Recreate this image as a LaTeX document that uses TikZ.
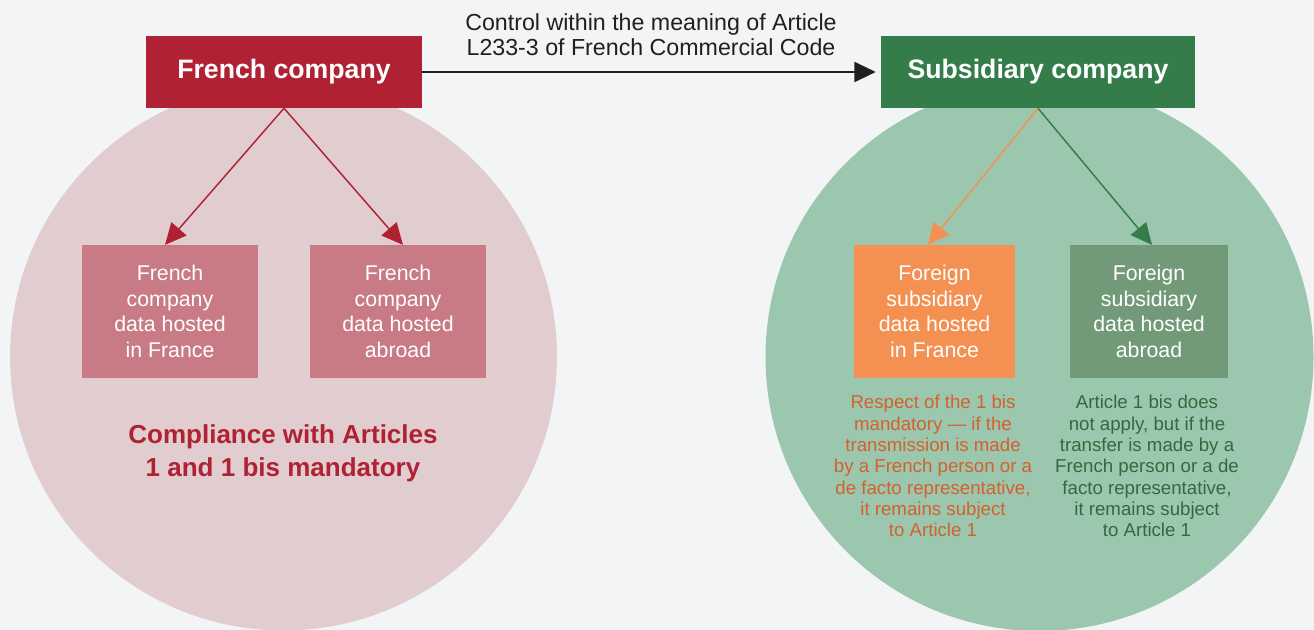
\documentclass[tikz,border=0pt]{standalone}
\usepackage{fontspec}
\setmainfont{Liberation Sans}
\usepackage{xcolor}
\usepackage{tikz}
\usetikzlibrary{positioning,shapes,arrows.meta}

\definecolor{bgcol}{HTML}{F3F4F6}
\definecolor{frred}{HTML}{B02233}
\definecolor{frpink}{HTML}{E1CDCF}
\definecolor{frbox}{HTML}{C87A85}
\definecolor{subgreen}{HTML}{347C49}
\definecolor{submint}{HTML}{9CC7AF}
\definecolor{suborange}{HTML}{F49152}
\definecolor{subsage}{HTML}{739A78}
\definecolor{ortext}{HTML}{D4602C}
\definecolor{grtext}{HTML}{2F6B3F}
\definecolor{inkblack}{HTML}{231F20}

\tikzset{
  headbox/.style={fill=#1, text=white, font=\bfseries\fontsize{20}{24}\selectfont,
    minimum height=54pt, inner sep=0pt},
  databox/.style={fill=#1, text=white, align=center, font=\fontsize{16}{19.3}\selectfont,
    minimum width=132pt, minimum height=99.5pt, inner sep=0pt},
  note/.style={text=#1, align=center, font=\fontsize{14}{16}\selectfont, inner sep=0pt},
  link/.style={draw=#1, line width=1.1pt, -{Triangle[length=16pt,width=15pt,fill=#1]}}
}

\begin{document}
\begin{tikzpicture}[x=0.75pt, y=-0.75pt]
    \useasboundingbox (0,0) rectangle (1314,630);
    \fill[bgcol] (0,0) rectangle (1314,630);
    % circles
    \fill[frpink] (283.5,357) circle[radius=205.1pt];
    \fill[submint] (1039.5,357) circle[radius=205.5pt];
    % top boxes
    \node[headbox=frred, minimum width=207pt] (fc) at (284,72) {French company};
    \node[headbox=subgreen, minimum width=235.5pt] (sc) at (1038,72) {Subsidiary company};
    \node[align=center, text=inkblack, font=\fontsize{17.4}{19}\selectfont, inner sep=0pt]
        (ctl) at (651,35) {Control within the meaning of Article\\L233-3 of French Commercial Code};
    \draw[link=inkblack, line width=1.5pt, -{Triangle[length=16pt,width=15pt]}, shorten >=3.75pt] (fc) -- (sc);
    % french side
    \node[databox=frbox] (fin) at (170,311.5) {French\\company\\data hosted\\in France};
    \node[databox=frbox] (fab) at (398,311.5) {French\\company\\data hosted\\abroad};
    \coordinate (fin-top) at ([xshift=-3.75pt]fin.north);
    \coordinate (fab-top) at ([xshift=3.75pt]fab.north);
    \draw[link=frred] (fc.south) -- (fin-top);
    \draw[link=frred] (fc.south) -- (fab-top);
    \node[text=frred, align=center, font=\bfseries\fontsize{19.5}{24.75}\selectfont, inner sep=0pt]
        (comp) at (283,453) {Compliance with Articles\\1 and 1 bis mandatory};
    % subsidiary side
    \node[databox=suborange, minimum width=120.75pt] (sin) at (934.5,311.5) {Foreign\\subsidiary\\data hosted\\in France};
    \node[databox=subsage, minimum width=118.5pt] (sab) at (1149,311.5) {Foreign\\subsidiary\\data hosted\\abroad};
    \coordinate (sin-top) at ([xshift=-4.9pt]sin.north);
    \coordinate (sab-top) at ([xshift=2.25pt]sab.north);
    \draw[link=suborange] (sc.south) -- (sin-top);
    \draw[link=subgreen] (sc.south) -- (sab-top);
    \node[note=ortext] (sin-note) at (933,466) {Respect of the 1 bis\\mandatory --- if the\\transmission is made\\by a French person or a\\de facto representative,\\it remains subject\\to Article 1};
    \node[note=grtext] (sab-note) at (1147,466) {Article 1 bis does\\not apply, but if the\\transfer is made by a\\French person or a de\\facto representative,\\it remains subject\\to Article 1};
\end{tikzpicture}
\end{document}
